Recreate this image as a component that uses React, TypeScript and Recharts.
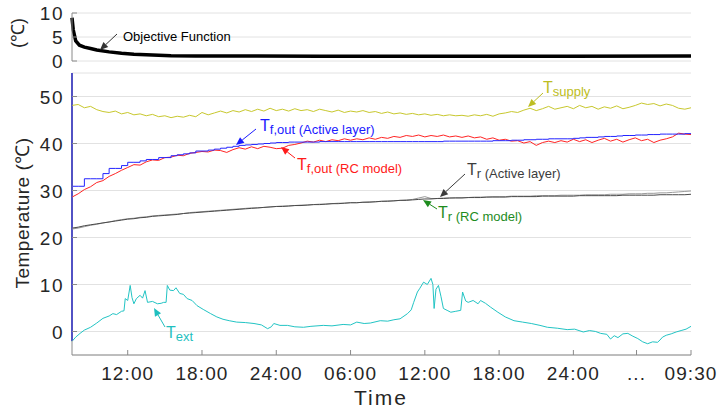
import React from "react";
import { LineChart, Line, XAxis, YAxis, CartesianGrid, ReferenceLine } from "recharts";

// time in hours since 07:30 on day 1, 0.5 h grid
const hours = [
  0, 0.5, 1, 1.5, 2, 2.5, 3, 3.5, 4, 4.5,
  5, 5.5, 6, 6.5, 7, 7.5, 8, 8.5, 9, 9.5,
  10, 10.5, 11, 11.5, 12, 12.5, 13, 13.5, 14, 14.5,
  15, 15.5, 16, 16.5, 17, 17.5, 18, 18.5, 19, 19.5,
  20, 20.5, 21, 21.5, 22, 22.5, 23, 23.5, 24, 24.5,
  25, 25.5, 26, 26.5, 27, 27.5, 28, 28.5, 29, 29.5,
  30, 30.5, 31, 31.5, 32, 32.5, 33, 33.5, 34, 34.5,
  35, 35.5, 36, 36.5, 37, 37.5, 38, 38.5, 39, 39.5,
  40, 40.5, 41, 41.5, 42, 42.5, 43, 43.5, 44, 44.5,
  45, 45.5, 46, 46.5, 47, 47.5, 48, 48.5, 49, 49.5,
  50,
];

const tSupply = [
  48.1, 48.3, 47.6, 47.9, 47.2, 46.8, 46.6, 46.9, 46.3, 46.6,
  46.1, 46.3, 45.9, 46.2, 45.7, 45.9, 45.5, 45.8, 45.6, 46.0,
  45.7, 46.6, 46.1, 46.5, 46.9, 46.5, 47.0, 46.7, 47.2, 46.8,
  47.3, 46.9, 47.5, 47.0, 47.3, 46.9, 47.4, 47.0, 47.2, 46.8,
  47.3, 47.0, 46.7, 47.1, 46.6, 46.9, 46.7, 47.0, 46.6, 46.8,
  46.4, 46.7, 46.3, 46.5, 46.2, 46.4, 46.1, 46.3, 46.0, 46.2,
  45.9, 46.1, 45.9, 46.0, 45.8, 46.1, 45.9, 46.2, 45.8, 46.3,
  46.5, 46.8, 46.6, 47.1, 47.5, 47.0, 47.4, 47.9, 47.3, 47.6,
  47.9, 47.4, 48.1, 47.6, 47.9, 47.3, 47.8, 47.5, 48.0, 47.4,
  47.7, 48.1, 48.6, 48.3, 48.5, 48.0, 48.4, 48.1, 47.5, 47.3,
  47.6,
];

const tfActive = [
  30.9, 30.9, 32.5, 32.5, 32.5, 33.6, 34.7, 34.7, 35.3, 36.0,
  36.0, 36.3, 36.6, 36.6, 37.0, 37.0, 37.4, 37.6, 37.8, 38.0,
  38.4, 38.4, 38.6, 38.8, 39.0, 39.2, 39.4, 39.6, 39.7, 39.8,
  39.9, 40.0, 40.1, 40.2, 40.2, 40.3, 40.3, 40.3, 40.3, 40.3,
  40.4, 40.4, 40.4, 40.4, 40.4, 40.4, 40.4, 40.4, 40.4, 40.4,
  40.4, 40.4, 40.4, 40.4, 40.4, 40.4, 40.4, 40.4, 40.4, 40.4,
  40.5, 40.5, 40.5, 40.5, 40.5, 40.5, 40.5, 40.5, 40.6, 40.6,
  40.6, 40.7, 40.7, 40.8, 40.8, 40.9, 40.9, 41.0, 41.0, 41.0,
  41.0, 41.1, 41.2, 41.3, 41.3, 41.4, 41.5, 41.5, 41.6, 41.7,
  41.7, 41.8, 41.8, 41.9, 41.9, 42.0, 42.0, 42.0, 42.0, 42.1,
  42.1,
];

const tfRc = [
  28.6, 29.3, 30.2, 30.8, 31.7, 32.1, 33.0, 33.6, 34.3, 34.9,
  35.5, 35.4, 36.1, 36.5, 36.4, 37.0, 37.1, 37.5, 37.4, 37.9,
  38.1, 38.3, 38.2, 38.6, 38.5, 38.1, 38.7, 39.1, 38.8, 39.3,
  38.9, 39.4, 39.2, 38.9, 39.0, 39.6, 39.8, 40.1, 40.5, 40.3,
  40.7, 40.4, 40.8, 40.6, 41.0, 40.7, 41.0, 40.8, 41.2, 40.9,
  41.3, 41.1, 41.5, 41.3, 41.7, 41.5, 41.8, 41.4, 41.7, 41.5,
  41.8, 41.4, 41.6, 41.3, 41.6, 41.2, 41.4, 40.9, 41.2, 40.7,
  40.9, 40.5, 40.6, 40.1, 40.4, 39.6, 40.2, 40.5, 40.2, 40.6,
  40.3, 40.9, 40.4, 40.8, 40.2, 40.7, 41.1, 40.5, 40.9, 40.3,
  40.8, 41.2, 40.6, 40.9, 40.2, 40.7, 41.0, 41.4, 42.2, 42.0,
  41.9,
];

const trActive = [
  22.0, 22.2, 22.5, 22.7, 22.9, 23.1, 23.3, 23.5, 23.7, 23.9,
  24.0, 24.2, 24.3, 24.5, 24.6, 24.7, 24.8, 24.9, 25.1, 25.2,
  25.3, 25.4, 25.5, 25.6, 25.7, 25.8, 25.9, 26.0, 26.1, 26.2,
  26.3, 26.4, 26.5, 26.6, 26.6, 26.7, 26.8, 26.8, 26.9, 27.0,
  27.0, 27.1, 27.2, 27.2, 27.3, 27.4, 27.4, 27.5, 27.5, 27.6,
  27.7, 27.7, 27.8, 27.9, 27.9, 28.0, 28.1, 28.2, 28.2, 28.3,
  28.3, 28.4, 28.4, 28.4, 28.5, 28.5, 28.5, 28.6, 28.6, 28.6,
  28.6, 28.7, 28.7, 28.7, 28.7, 28.7, 28.8, 28.8, 28.8, 28.8,
  28.8, 28.8, 28.9, 28.9, 28.9, 28.9, 28.9, 28.9, 28.9, 29.0,
  29.0, 29.0, 29.0, 29.0, 29.0, 29.1, 29.1, 29.1, 29.1, 29.1,
  29.2,
];

const trRc = [
  21.8, 22.0, 22.3, 22.6, 22.8, 23.1, 23.3, 23.6, 23.8, 24.0,
  24.1, 24.3, 24.4, 24.6, 24.7, 24.8, 24.9, 25.0, 25.1, 25.3,
  25.4, 25.5, 25.6, 25.7, 25.8, 25.9, 26.0, 26.1, 26.2, 26.3,
  26.3, 26.4, 26.5, 26.6, 26.7, 26.7, 26.8, 26.9, 26.9, 27.0,
  27.1, 27.1, 27.2, 27.3, 27.3, 27.4, 27.4, 27.5, 27.6, 27.6,
  27.7, 27.8, 27.8, 27.9, 28.0, 28.1, 28.4, 28.7, 28.3, 28.3,
  28.4, 28.4, 28.5, 28.5, 28.5, 28.6, 28.6, 28.6, 28.7, 28.7,
  28.7, 28.8, 28.8, 28.8, 28.8, 28.9, 28.9, 28.9, 28.9, 29.0,
  29.0, 29.0, 29.0, 29.1, 29.1, 29.1, 29.1, 29.2, 29.2, 29.2,
  29.3, 29.3, 29.3, 29.4, 29.4, 29.5, 29.5, 29.6, 29.7, 29.8,
  29.9,
];

// outdoor temperature, sampled more densely around the spikes
const textHours = [
  0, 0.3, 0.65, 1, 1.5, 2, 2.5, 3, 3.3, 3.6, 4, 4.2, 4.3, 4.5, 4.7, 4.85, 5, 5.2, 5.5, 5.7,
  5.9, 6.1, 6.5, 6.9, 7.2, 7.4, 7.6, 7.7, 7.9, 8.2, 8.4, 8.7, 9, 9.3, 9.7, 10.1, 10.6, 11.2, 11.7, 12.2,
  12.7, 13.3, 14, 14.7, 15.3, 15.8, 16.1, 16.3, 16.8, 17.4, 18, 18.7, 19.3, 20.3, 21, 21.9, 22.5, 23, 23.6, 24.1,
  24.9, 25.5, 26, 26.5, 27.1, 27.4, 27.6, 27.9, 28.1, 28.4, 28.7, 29, 29.15, 29.25, 29.4, 29.6, 29.8, 30, 30.3, 30.6,
  31, 31.4, 31.55, 31.8, 32, 32.4, 32.8, 33, 33.4, 33.8, 34.4, 35, 35.7, 36.4, 37.1, 37.8, 38.4, 39.2, 40, 40.6,
  41.3, 41.8, 42.3, 42.7, 43.2, 43.5, 43.8, 44.1, 44.5, 44.9, 45.3, 45.7, 46.1, 46.5, 46.9, 47.3, 47.5, 47.7, 48, 48.4,
  48.8, 49.2, 49.6, 50,
];
const tExt = [
  -2.1, -1.2, -0.4, 0.3, 0.9, 1.8, 2.8, 3.3, 3.8, 3.6, 4.3, 4.4, 7.0, 6.6, 9.8, 7.2, 5.9, 7.0, 7.7, 7.1,
  8.7, 6.2, 6.4, 5.9, 6.0, 6.2, 6.2, 9.8, 8.8, 8.7, 9.3, 8.1, 7.9, 7.0, 6.6, 5.5, 4.7, 3.8, 3.1, 2.6,
  2.3, 2.0, 1.9, 1.7, 1.4, 0.6, 1.0, 1.7, 1.3, 1.3, 1.0, 0.9, 1.1, 1.3, 1.2, 1.5, 1.4, 2.0, 1.7, 1.8,
  2.3, 2.2, 2.5, 2.7, 3.8, 4.6, 6.2, 8.4, 9.2, 10.5, 10.0, 11.3, 10.0, 4.9, 9.0, 9.8, 7.5, 4.9, 4.5, 4.1,
  4.3, 4.5, 8.4, 6.5, 6.2, 6.6, 5.9, 6.6, 6.0, 5.2, 4.1, 3.1, 2.3, 2.0, 1.7, 1.3, 0.9, 0.7, 0.4, 0.5,
  -0.1, 0.2, 0.0, -0.4, -0.6, -1.6, -0.9, -1.3, -0.5, -0.4, -1.0, -1.5, -2.2, -2.6, -2.2, -2.3, -1.8, -1.2, -0.8, -0.5,
  -0.1, 0.2, 0.5, 1.1,
];

// objective function (top panel)
const objHours = [0, 0.1, 0.3, 0.6, 1, 1.5, 2, 3, 4, 5, 6, 7, 8, 10, 15, 20, 30, 40, 50];
const objValues = [9.0, 6.5, 4.2, 3.3, 2.9, 2.6, 2.3, 1.9, 1.6, 1.4, 1.3, 1.2, 1.1, 1.05, 1.05, 1.0, 1.0, 1.0, 1.05];

const tickHours = [4.5, 10.5, 16.5, 22.5, 28.5, 34.5, 40.5, 45.6, 50];
const tickLabels = ["12:00", "18:00", "24:00", "06:00", "12:00", "18:00", "24:00", "...", "09:30"];
const tempTicks = [0, 10, 20, 30, 40, 50];
const objTicks = [0, 5, 10];

const rows = hours.map((h, i) => ({
  h,
  supply: tSupply[i],
  fActive: tfActive[i],
  fRc: tfRc[i],
  rActive: trActive[i],
  rRc: trRc[i],
}));
const extRows = textHours.map((h, i) => ({ h, ext: tExt[i] }));
const objRows = objHours.map((h, i) => ({ h, obj: objValues[i] }));

const AXIS = "#8a8a8a";
const GRID = "#e2e2e2";
const TXT = "#262626";
const FONT = "'Liberation Sans', Arial, sans-serif";

const LeftTick = (props: any) => {
  const { x, y, payload } = props;
  return (
    <g>
      <line x1={x} x2={x + 5} y1={y} y2={y} stroke={AXIS} />
      <text x={x - 8} y={y} dy={7} textAnchor="end" fontSize={19} fill={TXT} fontFamily={FONT} letterSpacing={1.5}>
        {payload.value}
      </text>
    </g>
  );
};

const RightTick = (props: any) => {
  const { x, y } = props;
  return <line x1={x - 5} x2={x} y1={y} y2={y} stroke={AXIS} />;
};

const TopTick = (props: any) => {
  const { x, y } = props;
  return <line x1={x} x2={x} y1={y} y2={y + 5} stroke={AXIS} />;
};

const BottomTick = (props: any) => {
  const { x, y, payload } = props;
  const label = tickLabels[tickHours.indexOf(payload.value)];
  return (
    <g>
      <line x1={x} x2={x} y1={y - 5} y2={y} stroke={AXIS} />
      <text x={x} y={y + 25} textAnchor="middle" fontSize={19} fill={TXT} fontFamily={FONT} letterSpacing={1.1}>
        {label}
      </text>
    </g>
  );
};

function Arrow({ x1, y1, x2, y2, color }: { x1: number; y1: number; x2: number; y2: number; color: string }) {
  const a = Math.atan2(y2 - y1, x2 - x1);
  const L = 8;
  const W = 3.5;
  const bx = x2 - L * Math.cos(a);
  const by = y2 - L * Math.sin(a);
  const pts = [
    [x2, y2],
    [bx + W * Math.sin(a), by - W * Math.cos(a)],
    [bx - W * Math.sin(a), by + W * Math.cos(a)],
  ]
    .map((p) => p.join(","))
    .join(" ");
  return (
    <g>
      <line x1={x1} y1={y1} x2={bx} y2={by} stroke={color} strokeWidth={1} />
      <polygon points={pts} fill={color} />
    </g>
  );
}

function Sub({ x, y, main, sub, color }: { x: number; y: number; main: string; sub: string; color: string }) {
  return (
    <text x={x} y={y} fill={color} fontFamily={FONT}>
      <tspan fontSize={16}>{main}</tspan>
      <tspan fontSize={13} dy={3}>{sub}</tspan>
    </text>
  );
}

function Annotations() {
  return (
    <svg width={717} height={408} style={{ position: "absolute", left: 0, top: 0, pointerEvents: "none" }}>
      {/* axis titles */}
      <text x={18} y={33} transform="rotate(-90 18 33)" textAnchor="middle" dominantBaseline="central" fontSize={18} fill={TXT} fontFamily={FONT}>
        (℃)
      </text>
      <text x={22} y={213} transform="rotate(-90 22 213)" textAnchor="middle" dominantBaseline="central" fontSize={19} fill={TXT} fontFamily={FONT} letterSpacing={0.5}>
        Temperature (℃)
      </text>
      <text x={381} y={405} textAnchor="middle" fontSize={21} fill={TXT} fontFamily={FONT} letterSpacing={2}>
        Time
      </text>

      <text x={123} y={41} fontSize={13} fill="#000" fontFamily={FONT}>Objective Function</text>
      <Arrow x1={117} y1={34} x2={100} y2={50} color="#333" />

      <Sub x={543} y={93} main="T" sub="supply" color="#bdbd22" />
      <Arrow x1={543} y1={93} x2={528} y2={107} color="#bdbd22" />

      <Sub x={260} y={131} main="T" sub="f,out (Active layer)" color="#1a1aff" />
      <Arrow x1={256} y1={129} x2={236} y2={145} color="#1a1aff" />

      <Sub x={297} y={170} main="T" sub="f,out (RC model)" color="#ff1a1a" />
      <Arrow x1={295} y1={158} x2={281} y2={147} color="#ff1a1a" />

      <Sub x={467} y={175} main="T" sub="r (Active layer)" color="#3c3c3c" />
      <Arrow x1={465} y1={174} x2={440} y2={197} color="#3c3c3c" />

      <Sub x={438} y={218} main="T" sub="r (RC model)" color="#1e8c1e" />
      <Arrow x1={437} y1={209} x2={423} y2={200} color="#1e8c1e" />

      <Sub x={166} y={338} main="T" sub="ext" color="#1fbfbf" />
      <Arrow x1={165} y1={327} x2={154} y2={308} color="#1fbfbf" />
    </svg>
  );
}

export default function App() {
  return (
    <div style={{ position: "absolute", left: 0, top: 0, width: 717, height: 408, background: "#fff" }}>
      <div style={{ position: "absolute", left: 0, top: 0 }}>
        <LineChart width={717} height={72} data={objRows} margin={{ top: 13, right: 26, bottom: 11, left: 12 }}>
          <CartesianGrid vertical={false} stroke={GRID} />
          <XAxis dataKey="h" type="number" domain={[0, 50]} height={0} tick={false} tickLine={false} axisLine={{ stroke: AXIS }} />
          <XAxis xAxisId="top" orientation="top" type="number" domain={[0, 50]} height={0} tick={false} tickLine={false} axisLine={{ stroke: AXIS }} />
          <YAxis domain={[0, 10]} ticks={objTicks} width={60} tickSize={0} tickMargin={0} tickLine={false} axisLine={{ stroke: AXIS }} tick={LeftTick} />
          <YAxis yAxisId="r" orientation="right" domain={[0, 10]} ticks={objTicks} width={0} tickSize={0} tickMargin={0} tickLine={false} axisLine={{ stroke: AXIS }} tick={RightTick} />
          <Line dataKey="obj" stroke="#000" strokeWidth={3.5} dot={false} isAnimationActive={false} />
        </LineChart>
      </div>
      <div style={{ position: "absolute", left: 0, top: 0 }}>
        <LineChart width={717} height={408} data={rows} margin={{ top: 73, right: 26, bottom: 8, left: 12 }}>
          <CartesianGrid vertical={false} stroke={GRID} />
          <XAxis dataKey="h" type="number" domain={[0, 50]} ticks={tickHours} height={45} tickSize={0} tickMargin={0} tickLine={false} axisLine={{ stroke: AXIS }} tick={BottomTick} />
          <XAxis xAxisId="top" orientation="top" type="number" domain={[0, 50]} ticks={tickHours} height={0} tickSize={0} tickMargin={0} tickLine={false} axisLine={{ stroke: AXIS }} tick={TopTick} />
          <YAxis domain={[-5, 55]} ticks={tempTicks} width={60} tickSize={0} tickMargin={0} tickLine={false} axisLine={{ stroke: AXIS }} tick={LeftTick} />
          <YAxis yAxisId="r" orientation="right" domain={[-5, 55]} ticks={tempTicks} width={0} tickSize={0} tickMargin={0} tickLine={false} axisLine={{ stroke: AXIS }} tick={RightTick} />
          <ReferenceLine segment={[{ x: 0, y: -2 }, { x: 0, y: 55 }]} stroke="#1a1aff" strokeWidth={2} />
          <Line dataKey="rRc" stroke="#9a9a9a" strokeWidth={1} dot={false} isAnimationActive={false} />
          <Line dataKey="rActive" stroke="#4a4a4a" strokeWidth={1} dot={false} isAnimationActive={false} />
          <Line data={extRows} dataKey="ext" stroke="#22c4c4" strokeWidth={1} dot={false} isAnimationActive={false} />
          <Line dataKey="supply" stroke="#c8c82e" strokeWidth={1} dot={false} isAnimationActive={false} />
          <Line dataKey="fRc" stroke="#ff2424" strokeWidth={1} dot={false} isAnimationActive={false} />
          <Line type="stepAfter" dataKey="fActive" stroke="#2424ff" strokeWidth={1} dot={false} isAnimationActive={false} />
        </LineChart>
      </div>
      <Annotations />
    </div>
  );
}
